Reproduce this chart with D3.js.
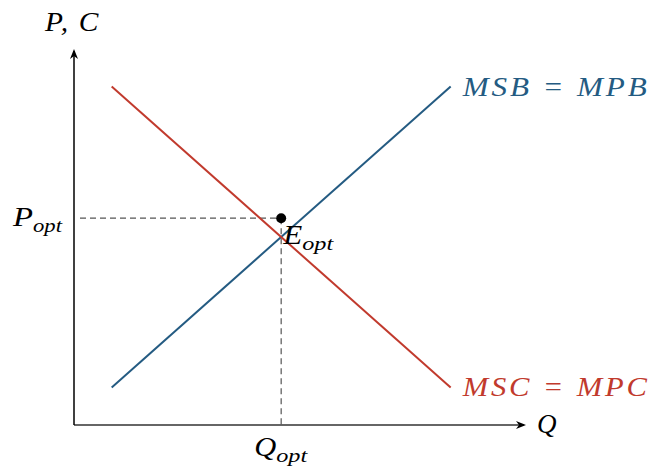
<!DOCTYPE html>
<html><head><meta charset="utf-8">
<script src="https://cdn.jsdelivr.net/npm/d3@7"></script>
<style>body{margin:0;background:#fff}</style>
</head><body>
<script>
const msbPoints = [[1, 1], [10, 9]];
const mscPoints = [[1, 9], [10, 1]];
const qOpt = 5.5;
const pOpt = 5.5;
const xMax = 12, yMax = 10;
const curveLabels = ["MSB = MPB", "MSC = MPC"];

const W = 652, H = 466;
const svg = d3.select("body").append("svg").attr("width", W).attr("height", H);
const x = d3.scaleLinear().domain([0, xMax]).range([74, 526]);
const y = d3.scaleLinear().domain([0, yMax]).range([425, 49]);
const blue = "#245b82", red = "#c13a2d";
const font = "'Liberation Serif', 'DejaVu Serif', serif";

// dashed guides
svg.append("line").attr("x1", x(0) + 6).attr("x2", x(qOpt)).attr("y1", y(pOpt)).attr("y2", y(pOpt))
  .attr("stroke", "#555").attr("stroke-width", 1.2).attr("stroke-dasharray", "6,4");
svg.append("line").attr("x1", x(qOpt)).attr("x2", x(qOpt)).attr("y1", y(pOpt)).attr("y2", y(0))
  .attr("stroke", "#555").attr("stroke-width", 1.2).attr("stroke-dasharray", "6,4");

// axes
svg.append("line").attr("x1", x(0)).attr("x2", x(xMax) - 2).attr("y1", y(0)).attr("y2", y(0))
  .attr("stroke", "#333").attr("stroke-width", 1.5);
svg.append("line").attr("x1", x(0)).attr("x2", x(0)).attr("y1", y(0)).attr("y2", y(yMax) + 2)
  .attr("stroke", "#000").attr("stroke-width", 1.5);
const ax = x(xMax), ay = y(0);
svg.append("path").attr("d", `M${ax},${ay} L${ax-10},${ay-4} L${ax-7},${ay} L${ax-10},${ay+4} Z`).attr("fill", "#000");
const bx = x(0), by = y(yMax);
svg.append("path").attr("d", `M${bx},${by} L${bx-4},${by+10} L${bx},${by+7} L${bx+4},${by+10} Z`).attr("fill", "#000");

const line = d3.line().x(d => x(d[0])).y(d => y(d[1]));
svg.append("path").attr("d", line(msbPoints)).attr("fill", "none").attr("stroke", blue).attr("stroke-width", 2);
svg.append("path").attr("d", line(mscPoints)).attr("fill", "none").attr("stroke", red).attr("stroke-width", 2);

svg.append("circle").attr("cx", x(qOpt)).attr("cy", y(pOpt)).attr("r", 5).attr("fill", "#000");

function label(px, py, main, sub, size, width, color, spacing) {
  const t = svg.append("text").attr("x", px).attr("y", py).attr("font-family", font)
    .attr("font-size", size).attr("fill", color || "#000");
  if (spacing) t.attr("letter-spacing", spacing);
  const m = t.append("tspan").attr("font-style", "italic").text(main);
  if (sub) {
    const s = t.append("tspan").attr("font-style", "italic").attr("font-size", size * 0.7)
      .attr("dy", size * 0.22).text(sub);
    if (width) {
      m.attr("textLength", width[0]).attr("lengthAdjust", "spacingAndGlyphs");
      s.attr("textLength", width[1]).attr("lengthAdjust", "spacingAndGlyphs");
    }
  } else if (width) {
    t.attr("textLength", width).attr("lengthAdjust", "spacingAndGlyphs");
  }
  return t;
}

label(x(10) + 12, y(9) + 9, curveLabels[0], null, 27, 187, blue, 2.5);
label(x(10) + 12, y(1) + 9, curveLabels[1], null, 27, 187, red, 2.5);
label(45, 31, "P, C", null, 27, 55, null, 1.5);
label(13, y(pOpt) + 8, "P", "opt", 27, [20, 29]);
label(x(qOpt) - 27, 456, "Q", "opt", 27, [22, 31]);
label(x(xMax) + 11, y(0) + 8, "Q", null, 27, null);
label(x(qOpt) + 2, y(pOpt) + 26, "E", "opt", 27, [19, 31]);
</script>
</body></html>
